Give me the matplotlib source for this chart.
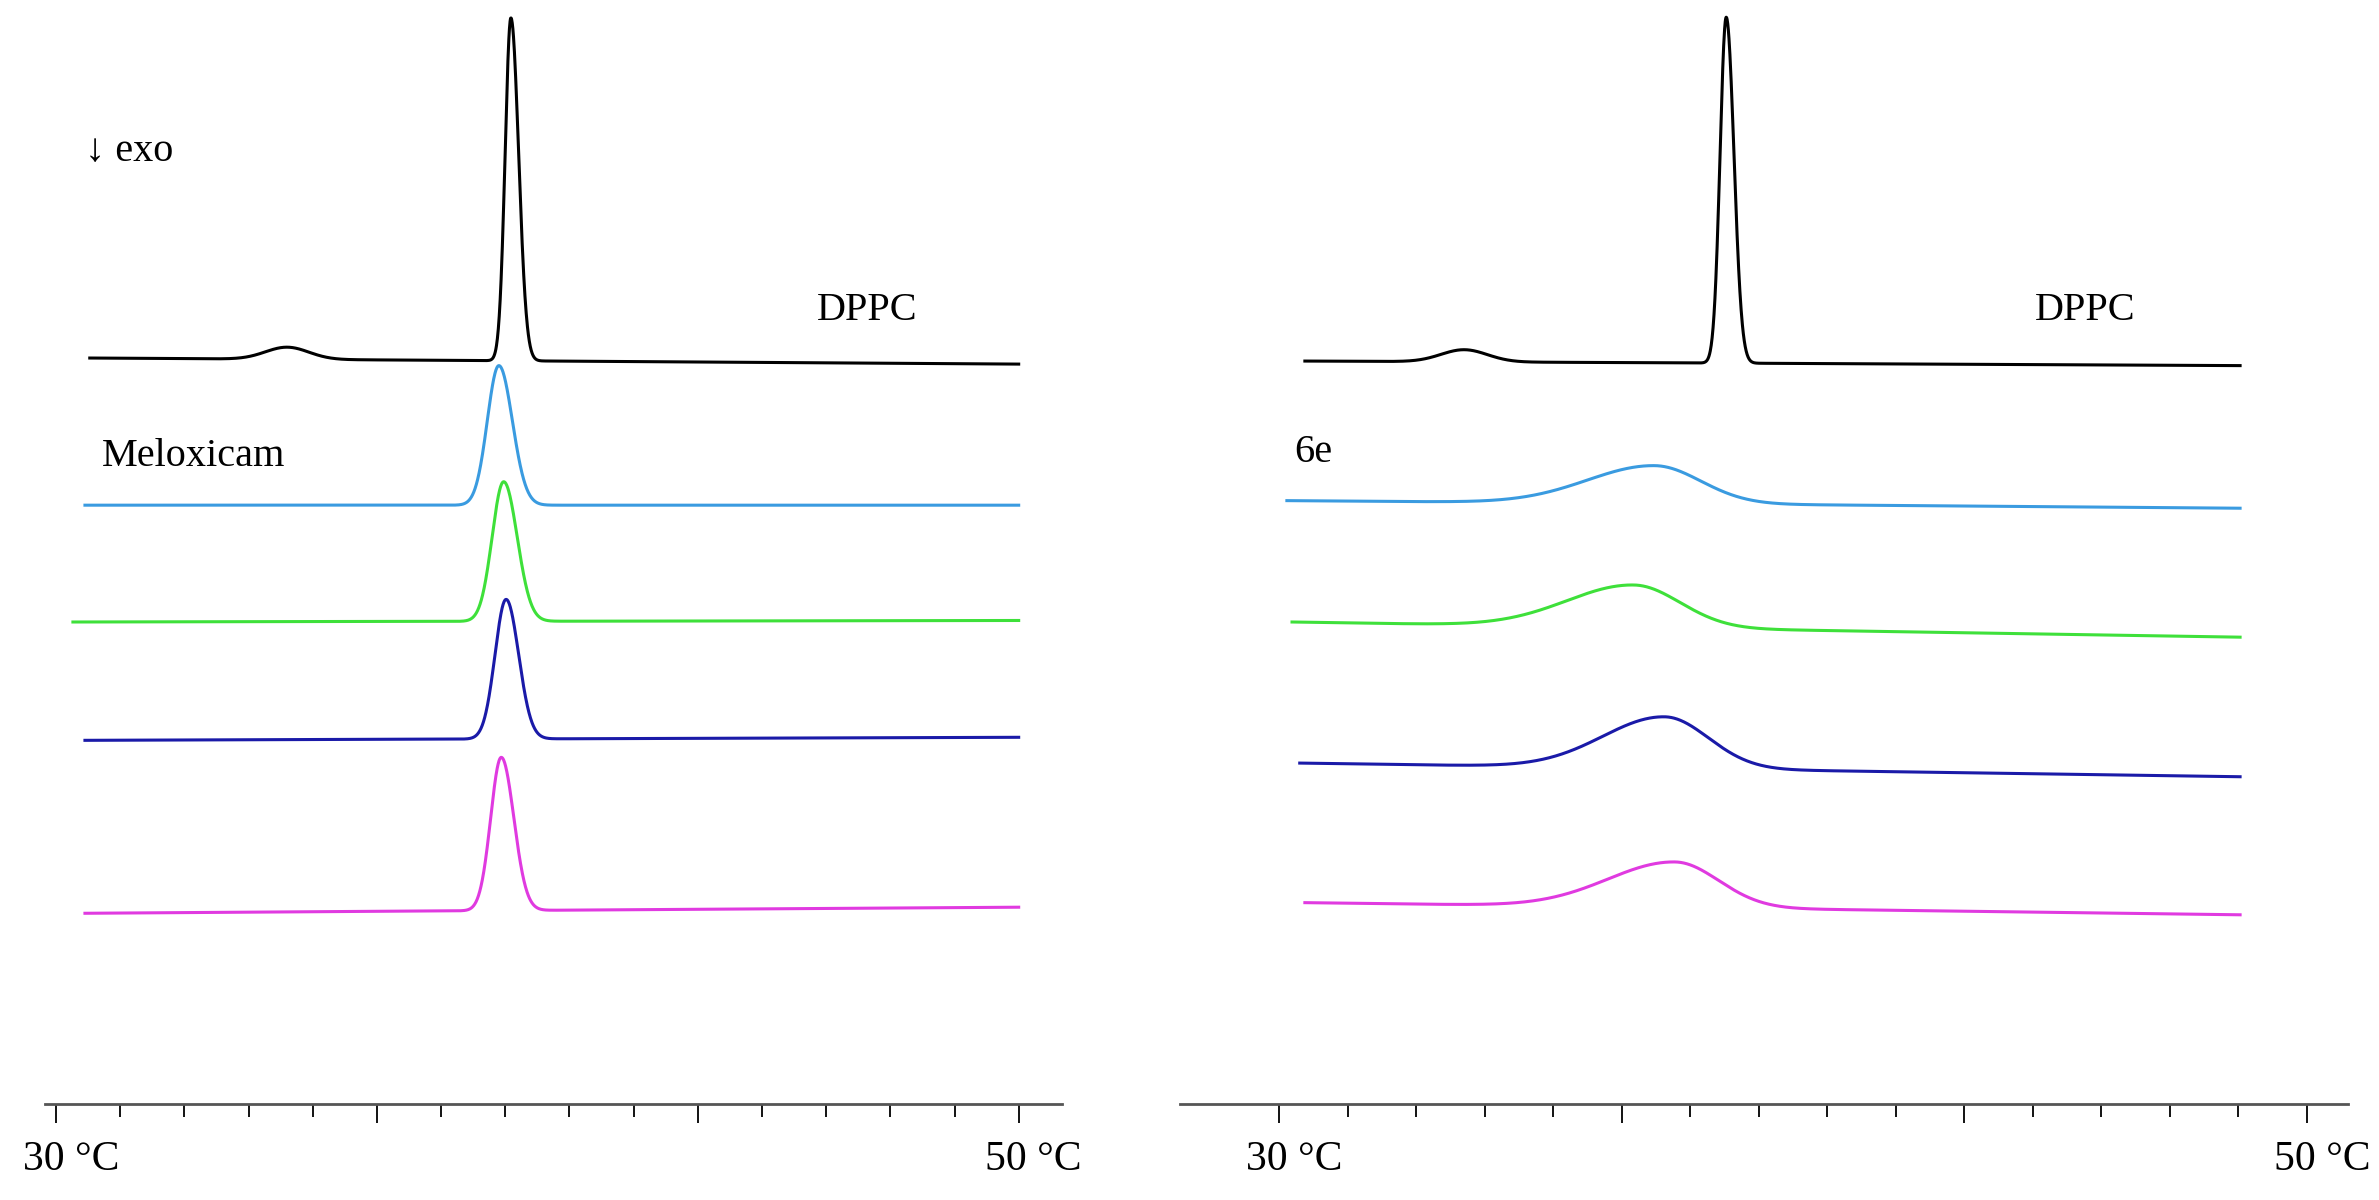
import numpy as np
import matplotlib.pyplot as plt
from matplotlib.transforms import ScaledTranslation

plt.rcParams['font.family'] = ['Liberation Serif', 'DejaVu Serif']

# thermogram traces: start/end temperature, baseline height at start/end,
# peak centre (°C), peak height above baseline, half widths left/right (°C)
colors = ['black', '#3a9be0', '#3ee03a', '#1a1aa8', '#e03ae0']

left_start = [30.7, 30.6, 30.35, 30.6, 30.6]
left_end = [50.0, 50.0, 50.0, 50.0, 50.0]
left_base0 = [492, 395, 318, 240, 126]
left_base1 = [488, 395, 319, 242, 130]
left_center = [39.45, 39.2, 39.3, 39.35, 39.25]
left_height = [226, 92, 92, 92, 101]
left_wl = [0.12, 0.24, 0.24, 0.23, 0.22]
left_wr = [0.16, 0.28, 0.28, 0.26, 0.26]
left_bump_c = [34.8, 0, 0, 0, 0]
left_bump_h = [8, 0, 0, 0, 0]

right_start = [30.5, 30.15, 30.25, 30.4, 30.5]
right_end = [48.7, 48.7, 48.7, 48.7, 48.7]
right_base0 = [490, 398, 318, 225, 133]
right_base1 = [487, 393, 308, 216, 125]
right_center = [38.7, 37.3, 36.9, 37.5, 37.7]
right_height = [228, 25, 28, 34, 30]
right_wl = [0.12, 1.3, 1.3, 1.2, 1.3]
right_wr = [0.15, 0.9, 0.9, 0.85, 0.85]
right_bump_c = [33.6, 0, 0, 0, 0]
right_bump_h = [8, 0, 0, 0, 0]

fig = plt.figure(figsize=(23.79, 12.0), dpi=100)
bottom = 1 - 728 / 791


def trace(t0, t1, b0, b1, c, h, wl, wr, bc, bh):
    t = np.linspace(t0, t1, 3000)
    base = b0 + (b1 - b0) * (t - t0) / (t1 - t0)
    w = np.where(t < c, wl, wr)
    y = base + h * np.exp(-0.5 * ((t - c) / w) ** 2)
    if bh:
        y += bh * np.exp(-0.5 * ((t - bc) / 0.45) ** 2)
    return t, y


def panel(rect, xlim, data):
    ax = fig.add_axes(rect)
    for i, col in enumerate(colors):
        args = [d[i] for d in data]
        t, y = trace(*args)
        ax.plot(t, y, color=col, lw=2.2)
    ax.set_xlim(*xlim)
    ax.set_ylim(0, 728)
    for s in ['top', 'left', 'right']:
        ax.spines[s].set_visible(False)
    ax.spines['bottom'].set_linewidth(2)
    ax.spines['bottom'].set_color('#555555')
    ticks = np.linspace(30, 50, 16)
    ax.set_xticks(ticks[::5])
    ax.set_xticklabels(['30 °C', '', '', '50 °C'], fontsize=30)
    ax.set_xticks(ticks, minor=True)
    ax.tick_params(axis='x', which='major', length=14, width=1.3, pad=12)
    ax.tick_params(axis='x', which='minor', length=9, width=1.3)
    ax.set_yticks([])
    for lab in ax.get_xticklabels():
        lab.set_transform(lab.get_transform() + ScaledTranslation(0.15, 0, fig.dpi_scale_trans))
    return ax


left_data = [left_start, left_end, left_base0, left_base1, left_center,
             left_height, left_wl, left_wr, left_bump_c, left_bump_h]
right_data = [right_start, right_end, right_base0, right_base1, right_center,
              right_height, right_wl, right_wr, right_bump_c, right_bump_h]

ax1 = panel([45 / 2379, bottom, 1017 / 2379, 1 - bottom], (29.77, 50.9), left_data)
ax2 = panel([1180 / 2379, bottom, 1168 / 2379, 1 - bottom], (28.07, 50.8), right_data)

ax1.text(30.6, 628, '↓ exo', fontsize=29, va='center')
ax1.text(45.8, 523, 'DPPC', fontsize=29, va='center')
ax1.text(30.95, 427, 'Meloxicam', fontsize=29, va='center')
ax2.text(44.7, 523, 'DPPC', fontsize=29, va='center')
ax2.text(30.3, 430, '6e', fontsize=29, va='center')

fig.savefig('out.png', dpi=100)
